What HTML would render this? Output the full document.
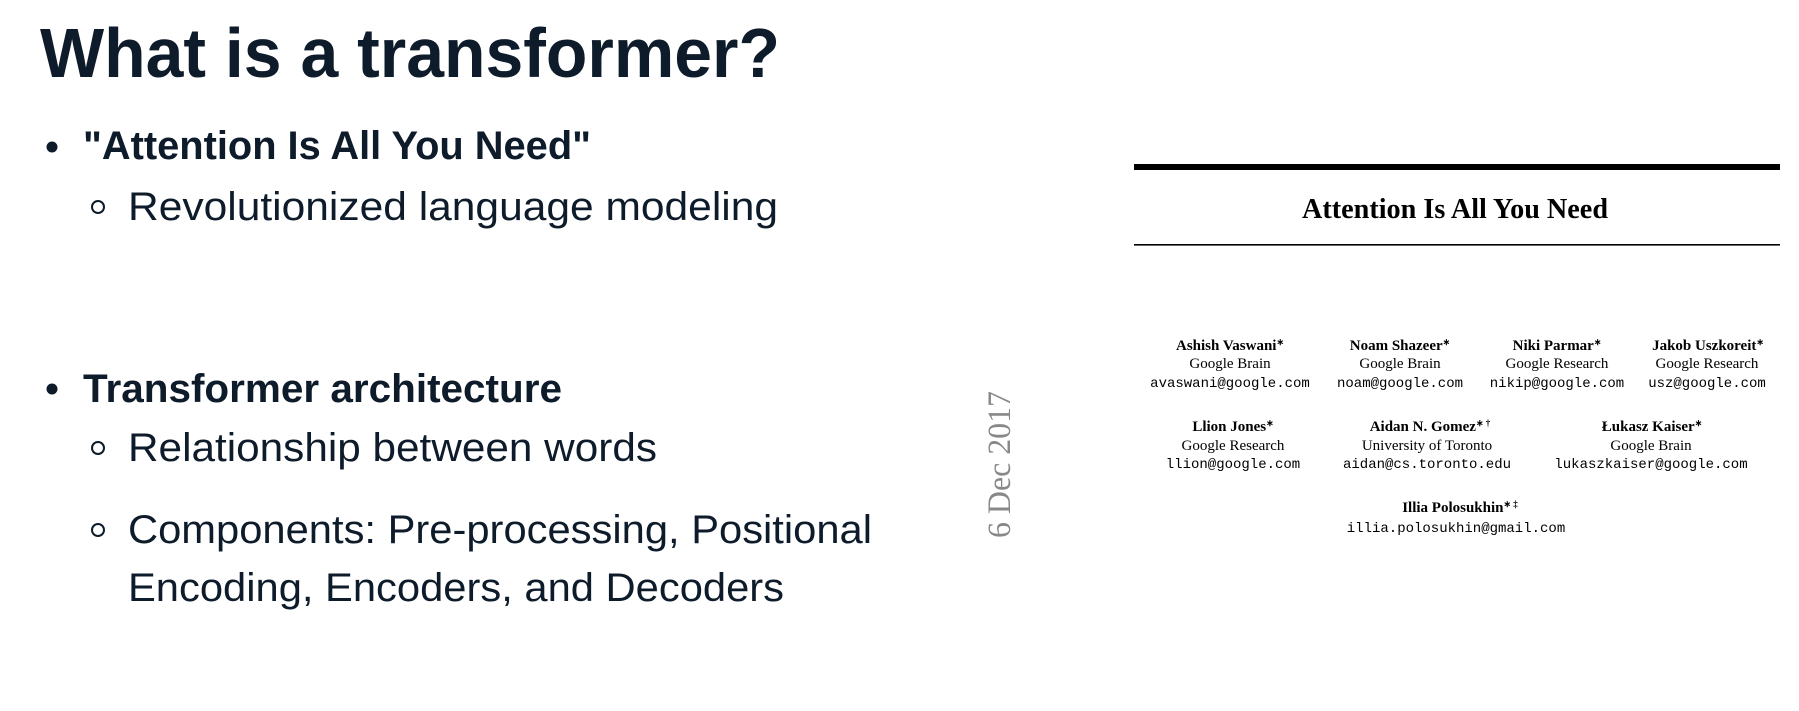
<!DOCTYPE html>
<html><head><meta charset="utf-8"><style>
html,body{margin:0;padding:0;background:#fff;}
svg{display:block;}
.s{font-family:"Liberation Sans",sans-serif;fill:#0d1b2a;}
.r{font-family:"Liberation Serif",serif;fill:#000;}
.m{font-family:"Liberation Mono",monospace;fill:#000;}
</style></head><body>
<svg width="1799" height="711" viewBox="0 0 1799 711" xmlns="http://www.w3.org/2000/svg">
<text class="s" x="40" y="77" font-size="70" font-weight="bold" textLength="740" lengthAdjust="spacingAndGlyphs">What is a transformer?</text>
<circle cx="52" cy="147" r="5.5" fill="#0d1b2a"/>
<text class="s" x="83" y="159" font-size="40" font-weight="bold" textLength="508" lengthAdjust="spacingAndGlyphs">"Attention Is All You Need"</text>
<circle cx="98" cy="207" r="6" fill="none" stroke="#0d1b2a" stroke-width="2"/>
<text class="s" x="128" y="220" font-size="40" textLength="650" lengthAdjust="spacingAndGlyphs">Revolutionized language modeling</text>
<circle cx="52" cy="389" r="5.5" fill="#0d1b2a"/>
<text class="s" x="83" y="402" font-size="40" font-weight="bold" textLength="479" lengthAdjust="spacingAndGlyphs">Transformer architecture</text>
<circle cx="98" cy="448" r="6" fill="none" stroke="#0d1b2a" stroke-width="2"/>
<text class="s" x="128" y="461" font-size="40" textLength="529" lengthAdjust="spacingAndGlyphs">Relationship between words</text>
<circle cx="98" cy="530" r="6" fill="none" stroke="#0d1b2a" stroke-width="2"/>
<text class="s" x="128" y="543" font-size="40" textLength="744" lengthAdjust="spacingAndGlyphs">Components: Pre-processing, Positional</text>
<text class="s" x="128" y="601" font-size="40" textLength="656" lengthAdjust="spacingAndGlyphs">Encoding, Encoders, and Decoders</text>
<text transform="translate(1010,538) rotate(-90)" x="0" y="0" font-family="Liberation Serif,serif" font-size="33" fill="#888" textLength="147" lengthAdjust="spacingAndGlyphs">6 Dec 2017</text>
<rect x="1134" y="164" width="646" height="6" fill="#000"/>
<text class="r" x="1302" y="218" font-size="28" font-weight="bold" textLength="306" lengthAdjust="spacingAndGlyphs">Attention Is All You Need</text>
<rect x="1134" y="244" width="646" height="1.6" fill="#000"/>
<g text-anchor="middle">
<text class="r" font-size="15" font-weight="bold" x="1230" y="350">Ashish Vaswani<tspan font-size="9" dy="-5">∗</tspan></text>
<text class="r" font-size="15" x="1230" y="368">Google Brain</text>
<text class="m" font-size="14" x="1230" y="387">avaswani@google.com</text>
<text class="r" font-size="15" font-weight="bold" x="1400" y="350">Noam Shazeer<tspan font-size="9" dy="-5">∗</tspan></text>
<text class="r" font-size="15" x="1400" y="368">Google Brain</text>
<text class="m" font-size="14" x="1400" y="387">noam@google.com</text>
<text class="r" font-size="15" font-weight="bold" x="1557" y="350">Niki Parmar<tspan font-size="9" dy="-5">∗</tspan></text>
<text class="r" font-size="15" x="1557" y="368">Google Research</text>
<text class="m" font-size="14" x="1557" y="387">nikip@google.com</text>
<text class="r" font-size="15" font-weight="bold" x="1708" y="350">Jakob Uszkoreit<tspan font-size="9" dy="-5">∗</tspan></text>
<text class="r" font-size="15" x="1707" y="368">Google Research</text>
<text class="m" font-size="14" x="1707" y="387">usz@google.com</text>
<text class="r" font-size="15" font-weight="bold" x="1233" y="431">Llion Jones<tspan font-size="9" dy="-5">∗</tspan></text>
<text class="r" font-size="15" x="1233" y="450">Google Research</text>
<text class="m" font-size="14" x="1233" y="468">llion@google.com</text>
<text class="r" font-size="15" font-weight="bold" x="1430" y="431">Aidan N. Gomez<tspan font-size="9" dy="-5">∗ †</tspan></text>
<text class="r" font-size="15" x="1427" y="450">University of Toronto</text>
<text class="m" font-size="14" x="1427" y="468">aidan@cs.toronto.edu</text>
<text class="r" font-size="15" font-weight="bold" x="1652" y="431">Łukasz Kaiser<tspan font-size="9" dy="-5">∗</tspan></text>
<text class="r" font-size="15" x="1651" y="450">Google Brain</text>
<text class="m" font-size="14" x="1651" y="468">lukaszkaiser@google.com</text>
<text class="r" font-size="15" font-weight="bold" x="1460" y="512">Illia Polosukhin<tspan font-size="9" dy="-5">∗ ‡</tspan></text>
<text class="m" font-size="14" x="1456" y="532">illia.polosukhin@gmail.com</text>
</g>
</svg>
</body></html>
